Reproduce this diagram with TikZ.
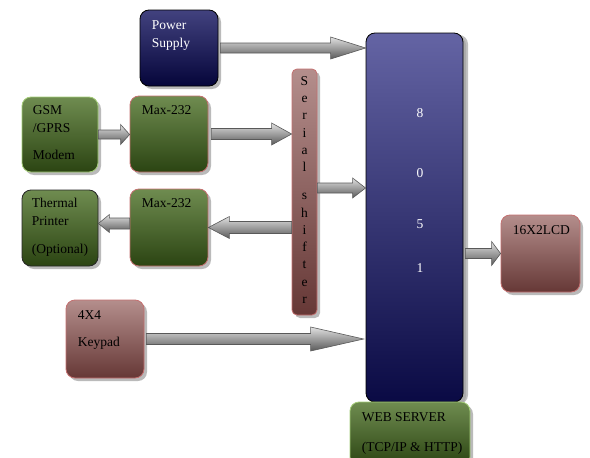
\documentclass[tikz,border=0pt]{standalone}
\usepackage{fontspec}
\setmainfont{Liberation Serif}
\usetikzlibrary{shadows,calc}
\definecolor{navyT}{HTML}{42427F}
\definecolor{navyB}{HTML}{05053A}
\definecolor{cpuT}{HTML}{6464A4}
\definecolor{cpuB}{HTML}{0A0A44}
\definecolor{grnT}{HTML}{6F8C50}
\definecolor{grnB}{HTML}{2B4412}
\definecolor{rosT}{HTML}{B48E8C}
\definecolor{rosB}{HTML}{663836}
\definecolor{grnE}{HTML}{A4CC78}
\definecolor{rosE}{HTML}{C47070}
\tikzset{
 blk/.style={rounded corners=9pt, inner sep=0pt, line width=0.8pt,
   drop shadow={shadow xshift=3pt, shadow yshift=-3pt, fill=black!45, opacity=.6}},
 navyblk/.style={blk, top color=navyT, bottom color=navyB, draw=black},
 cpublk/.style={blk, top color=cpuT, bottom color=cpuB, draw=black,
   drop shadow={shadow xshift=5pt, shadow yshift=-2pt, fill=black!35, opacity=.7}},
 grnblk/.style={blk, top color=grnT, bottom color=grnB},
 rosblk/.style={blk, top color=rosT, bottom color=rosB, draw=rosE},
 txt/.style={anchor=north west, inner sep=0pt, align=left, font=\fontsize{13.5}{18}\selectfont},
 dig/.style={inner sep=0pt, text=white, font=\fontsize{13.5}{16}\selectfont},
 arr/.style={top color=black!12, bottom color=black!65, draw=black!65, line width=0.6pt},
}
\newcommand\barrow[5]{%
 \shade[arr] let \p1=(#1), \p2=(#2) in
 (\x1,{\y1+#3}) -- ({\x2-(#5)},{\y1+#3}) -- ({\x2-(#5)},{\y1+#4}) -- (\x2,\y1)
 -- ({\x2-(#5)},{\y1-#4}) -- ({\x2-(#5)},{\y1-#3}) -- (\x1,{\y1-#3}) -- cycle;}
\begin{document}
\begin{tikzpicture}[x=1pt,y=-1pt]
\clip (0,0) rectangle (590,458);
\fill[white] (0,0) rectangle (590,458);
% boxes
\node[navyblk, minimum width=78pt, minimum height=76pt] (ps) at (179,48) {};
\node[grnblk, draw=grnE, minimum width=76pt, minimum height=75pt] (gsm) at (60,134.5) {};
\node[grnblk, draw=rosE, minimum width=78pt, minimum height=76pt] (max1) at (169,134) {};
\node[grnblk, draw=black!85, minimum width=76pt, minimum height=76pt] (tp) at (60,228) {};
\node[grnblk, draw=rosE, minimum width=78pt, minimum height=77pt] (max2) at (169,227.5) {};
\node[rosblk, rounded corners=5pt, minimum width=25pt, minimum height=246pt] (ser) at (304.5,192) {};
\node[cpublk, minimum width=97pt, minimum height=369pt] (cpu) at (414.5,217.5) {};
\node[grnblk, draw=grnE, minimum width=120pt, minimum height=64pt] (web) at (410,434) {};
\node[rosblk, minimum width=79pt, minimum height=77pt] (lcd) at (540.5,253.5) {};
\node[rosblk, minimum width=78pt, minimum height=78pt] (kp) at (105,339) {};
% texts
\node[txt, text=white] (pst) at ([shift={(12pt,-10.5pt)}]ps.north west) {Power\\Supply};
\node[txt] (gsmt) at ([shift={(11pt,-8.5pt)}]gsm.north west) {GSM\\/GPRS\\[9pt]Modem};
\node[txt] (max1t) at ([shift={(12pt,-9.5pt)}]max1.north west) {Max-232};
\node[txt] (tpt) at ([shift={(10pt,-8.5pt)}]tp.north west) {Thermal\\Printer\\[10pt](Optional)};
\node[txt] (max2t) at ([shift={(12pt,-10pt)}]max2.north west) {Max-232};
\node[txt] (webt) at ([shift={(12pt,-10.5pt)}]web.north west) {WEB SERVER\\[12pt](TCP/IP \& HTTP)};
\node[txt] (lcdt) at ([shift={(12pt,-10.5pt)}]lcd.north west) {16X2LCD};
\node[txt] (kpt) at ([shift={(12pt,-10.5pt)}]kp.north west) {4X4\\[9pt]Keypad};
\node[inner sep=0pt, align=center, font=\fontsize{13.5}{17.25}\selectfont] (sert) at ([yshift=2pt]ser.center)
  {S\\e\\r\\i\\a\\l\\[11pt]s\\h\\i\\f\\t\\e\\r};
\node[dig] (d8) at (420,113) {8};
\node[dig] (d0) at (420,173) {0};
\node[dig] (d5) at (420,224) {5};
\node[dig] (d1) at (420,268) {1};
% arrows
\barrow{[xshift=2pt]ps.east}{cpu.west}{5pt}{11pt}{35pt}
\barrow{gsm.east}{max1.west}{4.5pt}{10pt}{9pt}
\barrow{[xshift=3pt]max1.east}{ser.west}{5.5pt}{11pt}{20pt}
\barrow{[yshift=4pt]ser.east}{cpu.west}{5pt}{10pt}{13pt}
\barrow{ser.west |- max2.east}{max2.east}{6pt}{11pt}{-21pt}
\barrow{[yshift=4pt]max2.west}{tp.east}{5.5pt}{9pt}{-11pt}
\barrow{[xshift=2pt]cpu.east |- lcd.west}{lcd.west}{5pt}{12pt}{9pt}
\barrow{[xshift=2pt]kp.east}{[xshift=-2pt]cpu.west}{5.5pt}{12pt}{53pt}
\end{tikzpicture}
\end{document}
